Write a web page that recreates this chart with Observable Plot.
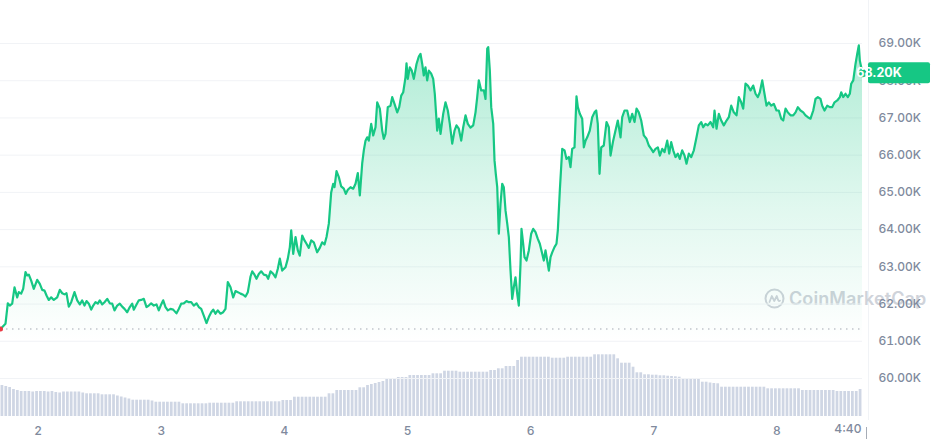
<!DOCTYPE html>
<html>
<head>
<meta charset="utf-8">
<script src="https://cdn.jsdelivr.net/npm/d3@7"></script>
<script src="https://cdn.jsdelivr.net/npm/@observablehq/plot@0.6"></script>
<style>
html, body { margin: 0; padding: 0; background: #fff; }
#chart { position: relative; width: 931px; height: 445px; overflow: hidden; font-family: Inter, "Noto Sans", sans-serif; }
#chart svg.layer { position: absolute; left: 0; top: 0; }
.sep { position: absolute; left: 868px; top: 0; width: 1px; height: 420px; background: #f1f3f6; }
.tickbar { position: absolute; left: 866px; top: 427px; width: 1px; height: 12px; background: #a6acb6; }
.wm { position: absolute; left: 764px; top: 286px; height: 24px; display: flex; align-items: center; color: #cfd3da; font-family: Inter, sans-serif; font-weight: 600; font-size: 18px; letter-spacing: 0.1px; white-space: nowrap; }
.wm svg { margin-right: 4px; }
</style>
</head>
<body>
<div id="chart">
  <div class="sep"></div>
  <div class="tickbar"></div>
</div>
<script>
// ---- data ----
const startTime = new Date(2024, 2, 1, 16, 40);   // left edge of the 7-day window
const endTime = new Date(2024, 2, 8, 16, 40);     // "4:40" right edge
const hoursFromStart = [0,0.97,1.42,1.81,2.28,2.73,3.25,3.57,4.03,4.42,4.87,5.20,5.52,5.98,6.49,7.15,7.66,8.13,8.58,8.97,9.41,9.88,10.39,11.05,11.56,12.03,12.47,12.86,13.31,13.78,14.42,14.95,15.46,15.92,16.37,16.76,17.21,17.68,18.07,18.52,18.96,19.35,19.82,20.27,20.80,21.30,21.77,22.22,22.75,23.25,23.72,24.17,24.69,25.20,25.67,25.98,26.51,26.96,27.42,27.93,28.46,28.90,29.37,29.88,30.40,30.85,31.32,31.71,32.16,32.61,33.13,33.66,34.30,34.75,35.22,35.72,36.25,36.70,37.17,37.67,38.20,38.65,39.12,39.62,40.15,40.60,41.07,41.46,41.90,42.35,42.88,43.40,43.85,44.30,44.83,45.35,45.80,46.25,46.78,47.30,47.75,48.20,48.73,49.06,49.50,49.89,50.34,50.81,51.32,51.84,52.17,52.62,53.15,53.60,54.05,54.44,54.90,55.55,56.00,56.39,56.66,57.05,57.50,57.95,58.33,58.80,59.25,59.64,60.09,60.56,61.06,61.72,62.23,62.70,63.15,63.54,63.99,64.45,64.84,65.10,65.49,65.94,66.40,66.91,67.30,67.69,68.22,68.74,69.19,69.64,70.03,70.49,70.81,71.14,71.47,71.78,72.25,72.64,73.09,73.42,73.93,74.39,74.70,75.04,75.48,76.01,76.34,76.79,77.32,77.71,78.10,78.49,78.93,79.13,79.38,79.77,80.16,80.55,81.08,81.53,81.86,82.19,82.50,82.83,83.16,83.48,83.94,84.33,84.64,85.11,85.43,85.76,86.28,86.73,87.18,87.57,88.04,88.49,88.87,89.32,89.79,90.18,90.63,91.08,91.60,92.13,92.58,92.91,93.22,93.69,94.20,94.53,94.86,95.06,95.37,95.64,96.03,96.28,96.53,96.81,97.12,97.45,97.78,98.09,98.43,98.76,99.07,99.40,99.73,100.04,100.37,100.70,101.02,101.35,101.54,101.87,102.13,102.52,102.97,103.43,103.82,104.27,104.72,105.11,105.58,105.89,106.22,106.55,106.87,107.20,107.53,107.97,108.36,108.62,109.01,109.48,109.92,110.31,110.76,111.09,111.42,111.87,112.26,112.52,112.91,113.37,113.69,114.02,114.35,114.85,115.32,115.77,116.10,116.41,116.75,117.08,117.58,118.11,118.56,118.89,119.41,119.86,120.31,120.84,121.17,121.62,122.14,122.65,123.12,123.57,123.96,124.40,124.87,125.38,125.90,126.35,126.82,127.21,127.66,128.11,128.50,128.97,129.41,129.94,130.33,130.72,131.11,131.56,132.00,132.39,132.86,133.31,133.70,134.15,134.62,135.13,135.65,136.10,136.57,136.96,137.40,137.85,138.38,138.90,139.16,139.55,140.00,140.47,140.97,141.50,141.95,142.41,142.92,143.45,143.90,144.36,144.75,145.20,145.65,146.18,146.70,147.15,147.60,147.99,148.46,148.90,149.29,149.74,150.21,150.72,151.24,151.69,152.16,152.55,153.00,153.45,153.97,154.50,154.95,155.40,155.92,156.45,156.89,157.35,157.87,158.40,158.84,159.30,159.82,160.15,160.60,161.12,161.63,162.10,162.55,163.08,163.59,163.85,164.24,164.69,165.14,165.53,165.80,166.20,166.64,166.97,167.28,167.48,168.00];
const priceK = [61.33,61.47,62.02,61.96,62.01,62.45,62.18,62.32,62.28,62.41,62.86,62.77,62.79,62.63,62.41,62.65,62.54,62.38,62.36,62.23,62.11,62.18,62.11,62.18,62.38,62.29,62.26,62.29,61.93,62.05,62.32,62.10,61.99,62.10,61.96,62.08,62.01,61.85,61.96,62.05,62.01,62.10,61.99,62.05,62.14,62.02,62.01,61.83,61.96,62.01,61.93,61.87,61.78,61.92,62.01,61.85,61.99,62.10,62.11,62.14,61.92,61.96,62.02,61.96,61.99,61.83,61.99,62.10,61.92,61.83,61.87,61.85,61.75,61.87,62.01,62.02,62.08,62.05,62.05,61.96,62.02,61.92,61.87,61.69,61.49,61.65,61.78,61.85,61.74,61.83,61.74,61.78,61.87,62.59,62.45,62.18,62.35,62.32,62.28,62.25,62.20,62.32,62.74,62.88,62.79,62.68,62.81,62.88,62.79,62.77,62.68,62.88,62.81,62.72,62.95,63.22,62.90,62.99,63.22,63.53,63.98,63.35,63.80,63.44,63.30,63.84,63.71,63.62,63.51,63.71,63.66,63.39,63.51,63.66,63.60,63.80,64.16,65.00,65.23,65.14,65.57,65.41,65.16,65.10,64.96,65.07,65.14,65.10,65.23,65.52,64.92,65.77,66.13,66.39,66.48,66.39,66.84,66.53,66.75,67.42,67.25,66.66,66.44,66.57,67.29,67.33,67.56,67.38,67.15,67.29,67.60,67.69,68.09,68.47,68.05,68.36,68.27,68.05,68.45,68.65,68.72,68.45,68.14,68.36,68.01,68.27,68.19,68.05,67.65,66.66,66.98,66.57,67.11,67.42,67.20,66.84,66.31,66.66,66.80,66.71,66.39,66.75,67.07,66.84,66.74,66.80,67.15,67.56,68.01,67.74,67.74,67.51,68.86,68.90,68.27,67.29,66.84,65.86,65.50,65.14,63.89,64.69,65.23,65.14,64.51,64.16,63.80,62.90,62.14,62.45,62.72,62.28,61.96,63.08,64.02,63.62,63.26,63.17,63.44,63.89,64.02,63.93,63.75,63.62,63.35,63.17,63.44,63.17,62.90,63.26,63.39,63.53,63.62,63.98,65.05,66.17,66.13,65.90,65.95,65.68,66.17,66.21,67.58,67.29,67.11,66.98,66.21,66.39,66.48,66.66,67.02,67.15,67.20,66.84,65.50,66.21,66.26,66.89,66.75,65.99,66.39,66.66,66.93,66.48,67.02,67.20,67.20,66.89,67.11,66.89,67.25,67.15,66.93,66.53,66.44,66.26,66.17,66.08,66.17,66.21,65.99,66.17,66.08,66.39,66.04,66.35,66.13,65.95,66.04,65.90,66.13,65.99,65.77,66.04,65.95,66.13,66.48,66.80,66.89,66.75,66.84,66.80,66.89,66.75,67.20,66.71,67.11,66.93,66.80,66.93,67.02,67.33,67.15,67.07,67.56,67.42,67.25,67.92,67.87,67.74,67.87,67.65,67.56,67.69,68.01,67.65,67.33,67.42,67.33,67.38,67.20,67.20,66.98,66.93,67.25,67.15,67.07,67.07,67.15,67.29,67.20,67.15,67.07,67.02,66.98,67.20,67.51,67.56,67.51,67.33,67.20,67.33,67.29,67.29,67.42,67.47,67.56,67.69,67.56,67.65,67.56,67.65,67.92,68.01,68.45,68.72,68.95,68.54,68.20];
const volumeStepHours = 0.75;
const volumeB = [31,30,29,27,26,25,25,25,24.5,25,25,25,24.5,25,24,23.5,24.5,24.5,24.5,24.5,24.5,23.5,22.7,22.7,22.7,22.7,21.7,21.7,21.7,21.7,20.5,19.5,18.5,17.5,16.3,16.3,16.3,16.3,16.3,15.5,14.3,14.3,14.3,14.3,14.3,14.3,14.3,12.7,12.7,12.7,12.7,12.7,12.7,12.7,13.3,13.3,13.3,13.3,13.3,13.3,13.3,14.7,14.7,14.7,14.7,14.7,14.7,14.7,14.7,14.7,14.7,14.7,14.7,16,16,16,19.3,19.3,19.3,19.3,19.3,19.3,19.3,19.3,19.3,22.7,22.7,26,26,26,26,26,26,28.7,28.7,31,32,33,34,35,37,38,38,39,39,39,41,41,41,41,41,41,42.7,42.7,42.7,45.3,45.3,45.3,45.3,44.3,44.3,44.3,44.3,44.3,44.3,44.3,44.3,46,46,47.7,47.7,50,50,50,56,59.3,59.3,59.3,59.3,59.3,59.3,59.3,59.3,58.3,58.3,58.3,58.3,59.3,59.3,59.3,59.3,59.3,59.3,59.3,61.7,61.7,61.7,61.7,61.7,61.7,57.7,53.3,53.3,53.3,49.3,43.7,43.7,41.7,41.7,41.3,41.3,40.7,40.7,40.3,40,39.7,39.3,37.7,37.7,37.7,37.7,37.7,34.3,34.3,33.5,33,32.7,29.3,29.3,29.3,29.3,29.3,29.3,29.3,29.3,29.3,29.3,29.3,29.3,27.7,27.7,27.7,27.7,27.7,27.7,27.7,27.7,27.7,26,26,26,26,26,26,26,26,26,25,25,25,25,25,25,27];
const yTicks = [60, 61, 62, 63, 64, 65, 66, 67, 68, 69];
const dayTicks = [2, 3, 4, 5, 6, 7, 8];
const endLabel = "4:40";
const watermark = "CoinMarketCap";

// ---- build tables ----
const H = 3600e3;
const series = hoursFromStart.map((h, i) => ({t: new Date(+startTime + h * H), p: priceK[i]}));
const first = series[0];
const last = series[series.length - 1];
const vols = volumeB.map((v, i) => ({
  t1: new Date(+startTime + i * volumeStepHours * H),
  t2: new Date(+startTime + (i + 1) * volumeStepHours * H),
  v
}));
const dayDates = dayTicks.map(d => new Date(2024, 2, d));

const GREEN = "#16c784";
const common = {
  width: 931, height: 445,
  marginLeft: 0, marginRight: 69, marginTop: 0, marginBottom: 29
};

const chart = document.getElementById("chart");

// volume layer
const volPlot = Plot.plot({
  ...common,
  style: {background: "transparent"},
  x: {type: "time", domain: [startTime, endTime], axis: null},
  y: {domain: [0, 76], range: [416, 340], axis: null},
  marks: [
    Plot.rectY(vols, {x1: "t1", x2: "t2", y: "v", fill: "#cfd6e4", insetLeft: 0.55, insetRight: 0.55})
  ]
});
volPlot.classList.add("layer");
chart.appendChild(volPlot);

// watermark (beneath price labels)
const wm = document.createElement("div");
wm.className = "wm";
wm.innerHTML = '<svg width="21" height="21" viewBox="0 0 21 21"><circle cx="10.5" cy="10.5" r="9" fill="none" stroke="#cfd3da" stroke-width="2"/><path d="M5.5 14 L7.8 8 L10.3 13 L12.8 8 L14.2 12.2 Q15 13.6 16 12.6" fill="none" stroke="#cfd3da" stroke-width="1.8" stroke-linejoin="round" stroke-linecap="round"/></svg><span>' + watermark + '</span>';
chart.appendChild(wm);

// price layer
const gradient = () => {
  const ns = "http://www.w3.org/2000/svg";
  const defs = document.createElementNS(ns, "defs");
  const lg = document.createElementNS(ns, "linearGradient");
  lg.setAttribute("id", "priceGrad");
  lg.setAttribute("x1", "0"); lg.setAttribute("y1", "0");
  lg.setAttribute("x2", "0"); lg.setAttribute("y2", "1");
  [[0, 0.34], [0.55, 0.13], [1, 0]].forEach(([o, a]) => {
    const s = document.createElementNS(ns, "stop");
    s.setAttribute("offset", o);
    s.setAttribute("stop-color", GREEN);
    s.setAttribute("stop-opacity", a);
    lg.appendChild(s);
  });
  defs.appendChild(lg);
  return defs;
};

const pricePlot = Plot.plot({
  ...common,
  style: {background: "transparent", fontFamily: "Inter, 'Noto Sans', sans-serif", fontSize: "12px", color: "#808a9d", overflow: "visible"},
  x: {type: "time", domain: [startTime, endTime]},
  y: {domain: [60, 69], range: [378, 43]},
  marks: [
    gradient,
    Plot.gridY(yTicks, {stroke: "#f1f3f6", strokeOpacity: 1}),
    Plot.areaY(series, {x: "t", y1: 61, y2: "p", fill: "url(#priceGrad)", curve: "linear"}),
    Plot.ruleY([first.p], {stroke: "#a3a9b3", strokeDasharray: "1.5,4.5", strokeWidth: 1}),
    Plot.lineY(series, {x: "t", y: "p", stroke: GREEN, strokeWidth: 2.2, strokeLinejoin: "round"}),
    Plot.dot([first], {x: "t", y: "p", r: 2.5, fill: "#ea3943"}),
    Plot.dot([last], {x: "t", y: "p", r: 4, fill: GREEN}),
    Plot.axisY(yTicks, {anchor: "right", label: null, tickSize: 0, tickPadding: 16, tickFormat: d => d.toFixed(2) + "K", fontWeight: 500}),
    Plot.axisX(dayDates, {label: null, tickSize: 0, tickPadding: 10, tickFormat: d => String(d.getDate()), fontWeight: 500}),
    Plot.text([last], {x: "t", text: () => endLabel, frameAnchor: "bottom", textAnchor: "end", dy: 16, dx: -1, fontWeight: 500})
  ]
});
pricePlot.classList.add("layer");
chart.appendChild(pricePlot);

// current price badge on the right axis, positioned with the plot's y scale
const ns = "http://www.w3.org/2000/svg";
const yPix = pricePlot.scale("y").apply(last.p);
const g = document.createElementNS(ns, "g");
const r = document.createElementNS(ns, "rect");
r.setAttribute("x", 868); r.setAttribute("y", yPix - 10.5);
r.setAttribute("width", 62); r.setAttribute("height", 21);
r.setAttribute("rx", 2); r.setAttribute("fill", GREEN);
const t = document.createElementNS(ns, "text");
t.setAttribute("x", 879); t.setAttribute("y", yPix);
t.setAttribute("dy", "0.36em");
t.setAttribute("fill", "#ffffff");
t.setAttribute("font-size", "12.5");
t.setAttribute("font-weight", "700");
t.setAttribute("font-family", "Inter, sans-serif");
t.textContent = last.p.toFixed(2) + "K";
g.appendChild(r); g.appendChild(t);
pricePlot.appendChild(g);
</script>
</body>
</html>
